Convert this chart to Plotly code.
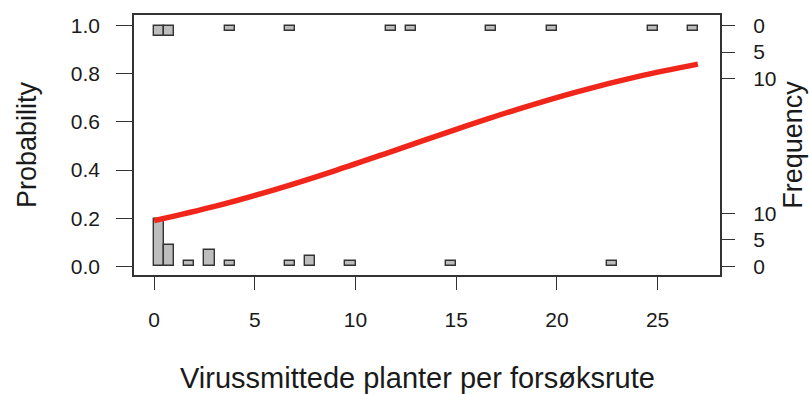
import plotly.graph_objects as go

# Observations with response 0 (bottom histogram): value -> count
zero_values = [0, 1, 2, 3, 4, 7, 8, 10, 15, 23]
zero_counts = [9, 4, 1, 3, 1, 1, 2, 1, 1, 1]
# Observations with response 1 (top histogram)
one_values = [0, 1, 4, 7, 12, 13, 17, 20, 25, 27]
one_counts = [2, 2, 1, 1, 1, 1, 1, 1, 1, 1]

# Fitted logistic curve
curve_x = [0, 3, 6, 9, 12, 15, 18, 21, 24, 27]
curve_p = [0.190, 0.249, 0.319, 0.398, 0.483, 0.569, 0.651, 0.725, 0.788, 0.840]

x_ticks = [0, 5, 10, 15, 20, 25]
y_ticks = [0.0, 0.2, 0.4, 0.6, 0.8, 1.0]
freq_ticks = [0, 5, 10]

x_title = "Virussmittede planter per forsøksrute"

SCALE = 0.022  # probability units per histogram count
BIN = 0.5      # histogram bins (k-0.5, k], first bin [0, 0.5]


def bin_center(v):
    lo = v - BIN if v > 0 else 0
    return lo + BIN / 2


fig = go.Figure()

bar_style = dict(marker=dict(color="#bdbdbd", line=dict(color="#333333", width=1.4)),
                 width=BIN, showlegend=False, hoverinfo="skip")

fig.add_trace(go.Bar(x=[bin_center(v) for v in zero_values],
                     y=[c * SCALE for c in zero_counts],
                     base=[0] * len(zero_values), yaxis="y", **bar_style))
fig.add_trace(go.Bar(x=[bin_center(v) for v in one_values],
                     y=[c * SCALE for c in one_counts],
                     base=[1 - c * SCALE for c in one_counts], yaxis="y", **bar_style))

# curve drawn on the overlaying axis (same range) so it sits above the bars
fig.add_trace(go.Scatter(x=curve_x, y=curve_p, mode="lines", yaxis="y2",
                         line=dict(color="#f0261b", width=5.5, shape="spline"),
                         showlegend=False))

yr = [-0.036, 1.044]
font = dict(family="Liberation Sans, Arial, sans-serif", color="#1a1a1a")
tick_common = dict(showgrid=False, zeroline=False, ticks="outside", automargin=False,
                   tickwidth=1.3, tickcolor="#333333", tickfont=dict(size=21))

fig.update_layout(
    width=809, height=394,
    margin=dict(l=134, r=89, t=15, b=119),
    paper_bgcolor="white", plot_bgcolor="white",
    font=dict(size=21, **font),
    barmode="overlay", bargap=0,
    xaxis=dict(range=[-1.0, 28.1], tickvals=x_ticks, ticktext=[str(v) for v in x_ticks],
               showline=True, mirror=True, linecolor="#333333", linewidth=1.5,
               ticklen=13, ticklabelstandoff=12, **tick_common),
    yaxis=dict(range=yr, tickvals=y_ticks, ticktext=[f"{v:.1f}" for v in y_ticks],
               showline=True, mirror=True, linecolor="#333333", linewidth=1.5,
               ticklen=16, ticklabelstandoff=12, **tick_common,
               title=dict(text="Probability", font=dict(size=27), standoff=26)),
    yaxis2=dict(range=yr, overlaying="y", side="right", anchor="x",
                tickvals=[1 - f * SCALE for f in freq_ticks] + [f * SCALE for f in freq_ticks],
                ticktext=[str(f) for f in freq_ticks] * 2,
                showline=False, ticklen=14, ticklabelstandoff=14, **tick_common,
                title=dict(text="Frequency", font=dict(size=27), standoff=7)),
    annotations=[dict(text=x_title, xref="paper", yref="paper", x=0.483, y=-0.398,
                      xanchor="center", yanchor="middle", showarrow=False,
                      font=dict(size=29))],
)

fig.write_html("out.html", config={"displayModeBar": False},
               post_script="document.body.style.margin='0';")
